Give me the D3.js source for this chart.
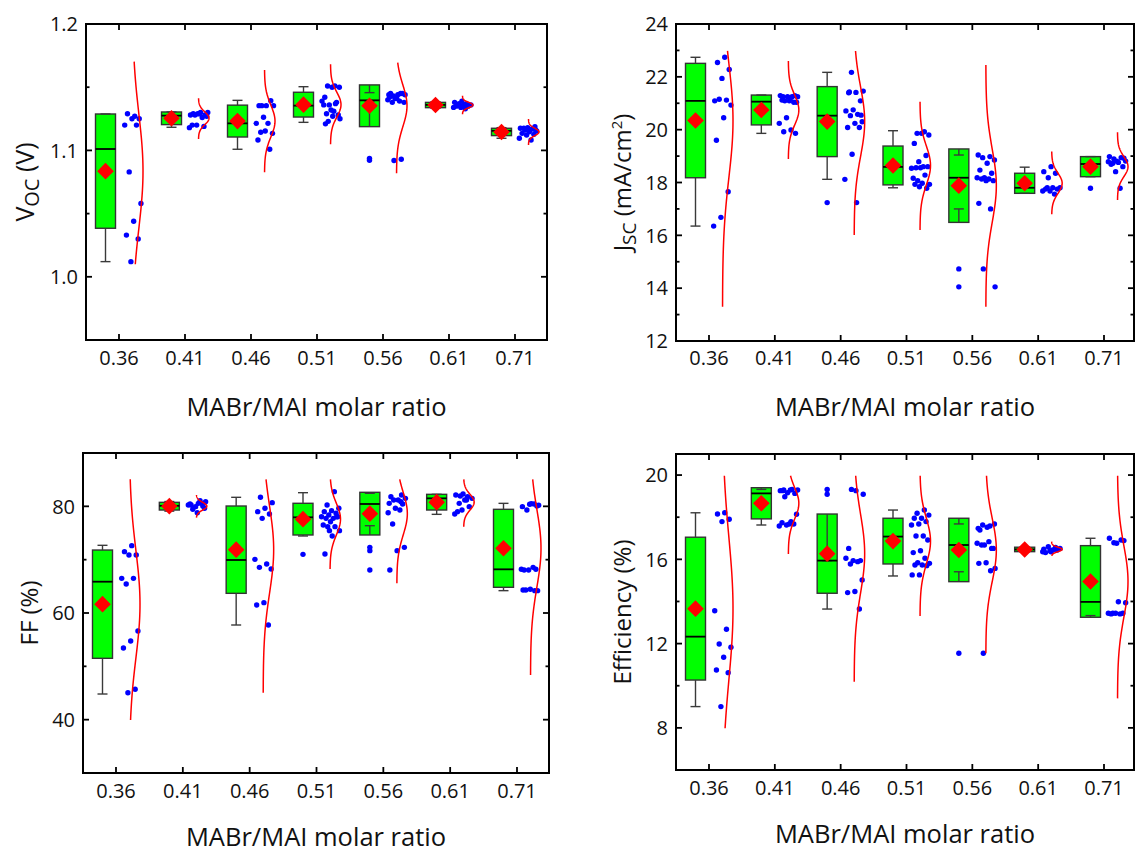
<!DOCTYPE html>
<html><head><meta charset="utf-8">
<script src="https://cdn.jsdelivr.net/npm/d3@7"></script>
<style>
body{margin:0;background:#fff}
svg{display:block}
text{font-family:'Open Sans',sans-serif;fill:#111}
</style>
</head><body>
<svg id="chart" width="1138" height="854"></svg>
<script>
const categories = ["0.36","0.41","0.46","0.51","0.56","0.61","0.71"];
const xTitle = "MABr/MAI molar ratio";

// ---- Voc (V) ----
const vocTicks = [1.0, 1.1, 1.2];
const vocMinorTicks = [0.95, 1.05, 1.15];
const vocMean = [1.0836, 1.1254, 1.1232, 1.1362, 1.1353, 1.1359, 1.1146];
const vocSD = [0.0452, 0.0050, 0.0126, 0.0098, 0.0165, 0.0021, 0.0029];
const vocMedian = [1.1011, 1.1275, 1.1214, 1.1354, 1.1396, 1.1360, 1.1155];
const vocWhiskerLo = [1.0120, 1.1183, 1.1009, 1.1222, 1.1390, 1.1333, 1.1096];
const vocWhiskerHi = [1.1288, 1.1304, 1.1396, 1.1504, 1.1457, 1.1385, 1.1180];
const vocCurveLo = [1.0099, 1.1090, 1.0827, 1.1048, 1.0819, 1.1286, 1.1043];
const vocCurveHi = [1.1702, 1.1412, 1.1636, 1.1681, 1.1694, 1.1433, 1.1248];
const vocOutliers = [[], [], [], [], [1.0937, 1.0922], [], []];
const vocPoints = [
  [1.127,1.129,1.125,1.125,1.120,1.120,1.083,1.058,1.044,1.033,1.030,1.012],
  [1.130,1.130,1.129,1.128,1.129,1.128,1.126,1.128,1.127,1.129,1.120,1.119,1.120,1.118],
  [1.1354,1.1354,1.1354,1.1354,1.1393,1.1262,1.1214,1.1214,1.1143,1.1135,1.1153,1.1082,1.1009],
  [1.151,1.151,1.150,1.150,1.142,1.138,1.136,1.139,1.131,1.129,1.128,1.132,1.136,1.137,1.123,1.125,1.127,1.121],
  [1.144,1.145,1.143,1.144,1.144,1.145,1.145,1.141,1.140,1.139,1.138,1.138,1.141,1.142,1.093,1.092],
  [1.139,1.138,1.137,1.137,1.136,1.136,1.135,1.135,1.134,1.134,1.133,1.136],
  [1.1188,1.118,1.1175,1.1169,1.1161,1.1153,1.1148,1.1135,1.1127,1.1122,1.1096,1.1082,1.1175,1.1161]
];

// ---- Jsc (mA/cm2) ----
const jscTicks = [12, 14, 16, 18, 20, 22, 24];
const jscMinorTicks = [13, 15, 17, 19, 21, 23];
const jscMean = [20.345, 20.745, 20.305, 18.645, 17.88, 17.97, 18.60];
const jscSD = [2.165, 0.565, 1.325, 0.735, 1.39, 0.38, 0.38];
const jscMedian = [21.09, 21.06, 20.53, 18.59, 18.18, 17.80, 18.70];
const jscWhiskerLo = [16.35, 19.86, 18.12, 17.80, 17.00, 17.59, 18.22];
const jscWhiskerHi = [22.74, 21.31, 22.17, 19.96, 19.04, 18.58, 18.98];
const jscCurveLo = [13.30, 18.89, 16.01, 16.20, 13.30, 16.80, 17.34];
const jscCurveHi = [22.98, 22.60, 22.98, 21.06, 22.45, 19.17, 19.90];
const jscOutliers = [[], [], [17.24], [], [14.73, 14.05], [], [17.78]];
const jscPoints = [
  [22.74,22.54,22.28,21.94,21.09,21.12,21.15,20.93,20.45,19.60,17.65,16.68,16.35],
  [21.25,21.19,21.25,21.29,21.25,21.29,21.25,21.09,21.04,21.09,21.12,21.04,20.45,20.24,19.99,19.92,19.86],
  [22.17,21.46,21.41,21.40,21.09,20.75,20.71,20.58,20.53,20.30,20.24,20.08,20.08,19.07,18.12,17.24,21.43,20.55],
  [19.92,19.86,19.80,19.86,19.48,19.02,18.79,18.54,18.60,18.56,18.60,18.56,18.16,18.28,18.07,17.93,17.97,17.93,17.78,17.84],
  [19.04,18.98,18.94,18.85,18.73,18.47,18.35,18.18,18.18,18.13,18.13,18.07,18.07,17.21,17.00,14.73,14.05],
  [18.60,18.41,18.35,18.18,17.80,17.80,17.75,17.75,17.68,17.68,17.56,17.80],
  [18.92,18.81,18.98,18.94,18.89,18.81,18.76,18.69,18.60,18.41,18.79,17.78,18.73]
];

// ---- FF (%) ----
const ffTicks = [40, 60, 80];
const ffMinorTicks = [30, 50, 70, 90];
const ffMean = [61.655, 80.03, 71.875, 77.60, 78.63, 80.78, 72.13];
const ffSD = [10.15, 0.72, 8.185, 2.97, 4.00, 1.47, 7.31];
const ffMedian = [65.87, 80.10, 69.94, 77.94, 80.44, 81.50, 68.19];
const ffWhiskerLo = [44.81, 79.10, 57.75, 74.44, 76.37, 78.50, 64.19];
const ffWhiskerHi = [72.69, 80.90, 81.69, 82.56, 82.44, 82.25, 80.56];
const ffCurveLo = [39.94, 77.87, 45.06, 68.25, 65.56, 76.19, 48.38];
const ffCurveHi = [85.06, 82.12, 85.06, 85.06, 85.06, 85.06, 85.06];
const ffOutliers = [[], [], [], [71.0], [72.31, 71.69, 68.06], [], []];
const ffPoints = [
  [72.63,71.50,70.88,70.88,66.50,66.50,65.44,56.63,54.75,53.44,45.69,45.06],
  [80.88,80.56,80.25,80.06,79.94,80.25,81.06,79.44,79.63,78.81,80.44,80.56],
  [81.69,80.69,79.63,79.00,78.56,77.75,70.06,69.19,68.56,68.25,61.94,61.50,57.75],
  [82.75,80.25,79.63,79.19,79.00,78.69,78.38,78.06,77.75,77.75,78.06,77.12,76.50,76.19,76.19,75.44,74.44,71.06,78.06,75.44],
  [80.56,80.88,81.19,81.50,81.19,81.81,80.44,79.63,78.81,79.31,76.69,72.31,71.69,68.06,82.12],
  [82.31,82.12,81.81,81.94,81.50,81.19,79.00,79.94,79.31,78.56,81.19,80.56],
  [80.06,80.38,79.94,80.44,79.31,80.20,80.50,68.06,68.19,68.06,68.19,68.56,64.31,64.19,64.44,64.31,64.19]
];

// ---- Efficiency (%) ----
const effTicks = [8, 12, 16, 20];
const effMinorTicks = [6, 10, 14, 18];
const effMean = [13.66, 18.66, 16.27, 16.865, 16.445, 16.47, 14.95];
const effSD = [3.39, 0.74, 1.88, 1.085, 1.505, 0.105, 1.70];
const effMedian = [12.33, 19.13, 15.94, 17.08, 16.68, 16.47, 13.98];
const effWhiskerLo = [9.01, 17.63, 13.64, 15.21, 15.41, 16.36, 13.33];
const effWhiskerHi = [18.21, 19.32, 15.94, 18.34, 17.68, 16.57, 17.00];
const effCurveLo = [7.98, 16.25, 10.19, 13.31, 11.54, 16.16, 9.40];
const effCurveHi = [19.97, 19.97, 19.97, 19.97, 19.97, 16.84, 19.97];
const effOutliers = [[], [], [19.32, 19.09], [], [11.54], [], []];
const effPoints = [
  [18.21,18.15,17.90,17.79,13.56,12.68,11.98,11.83,11.35,10.75,10.62,9.01],
  [19.29,19.29,19.26,19.13,19.16,19.26,19.32,18.97,18.14,17.68,17.74,17.68,17.63,17.58,17.79,19.29],
  [19.32,19.09,19.26,16.52,15.94,15.94,16.05,15.89,15.78,15.02,14.47,14.42,13.64],
  [18.34,18.19,18.10,17.95,17.95,17.79,17.68,17.63,17.11,17.11,16.92,16.41,16.32,16.05,15.84,15.81,15.73,15.73,15.70,15.26,15.26],
  [17.47,17.58,17.63,17.68,17.52,17.39,16.52,16.68,16.76,16.84,16.68,16.52,15.84,15.81,15.46,11.54,15.57],
  [16.36,16.48,16.57,16.60,16.52,16.44,16.32,16.44,16.41,16.36],
  [16.89,16.76,17.00,16.92,16.79,13.94,13.99,13.41,13.44,13.44,13.44,13.41,13.44]
];

// ---------- layout ----------
const panels = [
  {frame:{l:86,r:547,t:24,b:340}, xr:[119,515], domain:[0.95,1.2], ticks:vocTicks, minor:vocMinorTicks, fmt:d3.format(".1f"),
   mean:vocMean, sd:vocSD, median:vocMedian, wLo:vocWhiskerLo, wHi:vocWhiskerHi, cLo:vocCurveLo, cHi:vocCurveHi,
   out:vocOutliers, pts:vocPoints, ytitle:"voc", ytx:34, xlabY:365, xtitleY:416},
  {frame:{l:676,r:1134,t:24,b:341}, xr:[709,1104], domain:[12,24], ticks:jscTicks, minor:jscMinorTicks, fmt:d3.format("d"),
   mean:jscMean, sd:jscSD, median:jscMedian, wLo:jscWhiskerLo, wHi:jscWhiskerHi, cLo:jscCurveLo, cHi:jscCurveHi,
   out:jscOutliers, pts:jscPoints, ytitle:"jsc", ytx:631, xlabY:365, xtitleY:416},
  {frame:{l:83,r:549,t:453,b:773}, xr:[116,517], domain:[30,90], ticks:ffTicks, minor:ffMinorTicks, fmt:d3.format("d"),
   mean:ffMean, sd:ffSD, median:ffMedian, wLo:ffWhiskerLo, wHi:ffWhiskerHi, cLo:ffCurveLo, cHi:ffCurveHi,
   out:ffOutliers, pts:ffPoints, ytitle:"FF (%)", ytx:38, xlabY:798, xtitleY:846},
  {frame:{l:676,r:1134,t:454,b:770}, xr:[709,1104], domain:[6,21], ticks:effTicks, minor:effMinorTicks, fmt:d3.format("d"),
   mean:effMean, sd:effSD, median:effMedian, wLo:effWhiskerLo, wHi:effWhiskerHi, cLo:effCurveLo, cHi:effCurveHi,
   out:effOutliers, pts:effPoints, ytitle:"Efficiency (%)", ytx:631, xlabY:795, xtitleY:843}
];

const svg = d3.select("#chart");
const BOX_OFF = -13.5, BOX_W = 20, CAP_W = 10, CURVE_OFF = 13.5, CURVE_AMP = 10.5;
const PT_OFF = 4, PT_SPAN = 19, DIA = 8.3;

panels.forEach(p => {
  const f = p.frame;
  const g = svg.append("g");
  const x = d3.scalePoint().domain(categories).range(p.xr);
  const y = d3.scaleLinear().domain(p.domain).range([f.b, f.t]);

  // ticks (inward on all four sides)
  const tk = g.append("g").attr("stroke", "#000").attr("stroke-width", 1.8);
  p.ticks.forEach(v => {
    tk.append("line").attr("x1", f.l).attr("x2", f.l + 6).attr("y1", y(v)).attr("y2", y(v));
    tk.append("line").attr("x1", f.r).attr("x2", f.r - 6).attr("y1", y(v)).attr("y2", y(v));
  });
  p.minor.forEach(v => {
    tk.append("line").attr("x1", f.l).attr("x2", f.l + 3.5).attr("y1", y(v)).attr("y2", y(v));
    tk.append("line").attr("x1", f.r).attr("x2", f.r - 3.5).attr("y1", y(v)).attr("y2", y(v));
  });
  categories.forEach(c => {
    tk.append("line").attr("x1", x(c)).attr("x2", x(c)).attr("y1", f.b).attr("y2", f.b - 6);
    tk.append("line").attr("x1", x(c)).attr("x2", x(c)).attr("y1", f.t).attr("y2", f.t + 6);
  });

  // tick labels
  g.selectAll(".yl").data(p.ticks).join("text")
    .attr("x", f.l - 8).attr("y", d => y(d)).attr("dy", "0.36em")
    .attr("text-anchor", "end").attr("font-size", 20).text(d => p.fmt(d));
  g.selectAll(".xl").data(categories).join("text")
    .attr("x", d => x(d)).attr("y", p.xlabY)
    .attr("text-anchor", "middle").attr("font-size", 20).text(d => d);

  // axis titles
  g.append("text").attr("x", (f.l + f.r) / 2).attr("y", p.xtitleY)
    .attr("text-anchor", "middle").attr("font-size", 25.5).text(xTitle);
  const yt = g.append("text")
    .attr("transform", `translate(${p.ytx},${(f.t + f.b) / 2}) rotate(-90)`)
    .attr("text-anchor", "middle").attr("font-size", 24);
  if (p.ytitle === "voc") {
    yt.append("tspan").attr("font-size", 25).text("V");
    yt.append("tspan").attr("font-size", 20).attr("dy", 5).text("OC");
    yt.append("tspan").attr("font-size", 25).attr("dy", -5).text(" (V)");
  } else if (p.ytitle === "jsc") {
    yt.append("tspan").text("J");
    yt.append("tspan").attr("font-size", 19).attr("dy", 5).text("SC");
    yt.append("tspan").attr("dy", -5).text(" (mA/cm");
    yt.append("tspan").attr("font-size", 15).attr("dy", -9).text("2");
    yt.append("tspan").attr("dy", 9).text(")");
  } else {
    yt.text(p.ytitle);
  }

  // data per category
  categories.forEach((c, i) => {
    const cx = x(c), bx = cx + BOX_OFF;
    const m = p.mean[i], s = p.sd[i];
    const yTop = y(m + s), yBot = y(m - s);
    // box (mean ± SD)
    g.append("rect").attr("x", bx - BOX_W / 2).attr("y", yTop)
      .attr("width", BOX_W).attr("height", Math.max(1, yBot - yTop))
      .attr("fill", "#00ff00").attr("stroke", "#333").attr("stroke-width", 1.4);
    // whiskers
    const w = g.append("g").attr("stroke", "#3a3a3a").attr("stroke-width", 1.4);
    w.append("line").attr("x1", bx).attr("x2", bx).attr("y1", yTop).attr("y2", y(p.wHi[i]));
    w.append("line").attr("x1", bx - CAP_W / 2).attr("x2", bx + CAP_W / 2).attr("y1", y(p.wHi[i])).attr("y2", y(p.wHi[i]));
    w.append("line").attr("x1", bx).attr("x2", bx).attr("y1", yBot).attr("y2", y(p.wLo[i]));
    w.append("line").attr("x1", bx - CAP_W / 2).attr("x2", bx + CAP_W / 2).attr("y1", y(p.wLo[i])).attr("y2", y(p.wLo[i]));
    // median
    g.append("line").attr("x1", bx - BOX_W / 2).attr("x2", bx + BOX_W / 2)
      .attr("y1", y(p.median[i])).attr("y2", y(p.median[i]))
      .attr("stroke", "#000").attr("stroke-width", 1.8);
    // outliers at box center
    p.out[i].forEach(v => {
      g.append("circle").attr("cx", bx).attr("cy", y(v)).attr("r", 2.7).attr("fill", "#0000ff");
    });
    // mean diamond
    const ym = y(m);
    g.append("path")
      .attr("d", `M${bx},${ym - DIA}L${bx + DIA},${ym}L${bx},${ym + DIA}L${bx - DIA},${ym}Z`)
      .attr("fill", "#ff0000");
    // data points (jittered)
    p.pts[i].forEach((v, j) => {
      const frac = ((j + 1) * 0.6180339887 + i * 0.37) % 1;
      g.append("circle").attr("cx", cx + PT_OFF + PT_SPAN * frac).attr("cy", y(v))
        .attr("r", 2.7).attr("fill", "#0000ff");
    });
    // normal distribution curve
    const lo = p.cLo[i], hi = p.cHi[i];
    const samples = d3.range(0, 81).map(k => lo + (hi - lo) * k / 80);
    const line = d3.line()
      .x(v => cx + CURVE_OFF + CURVE_AMP * Math.exp(-((v - m) ** 2) / (2 * s * s)))
      .y(v => y(v));
    g.append("path").attr("d", line(samples)).attr("fill", "none")
      .attr("stroke", "#ff0000").attr("stroke-width", 1.5);
  });

  // frame
  g.append("rect").attr("x", f.l).attr("y", f.t).attr("width", f.r - f.l).attr("height", f.b - f.t)
    .attr("fill", "none").attr("stroke", "#000").attr("stroke-width", 2);
});
</script>
</body></html>
